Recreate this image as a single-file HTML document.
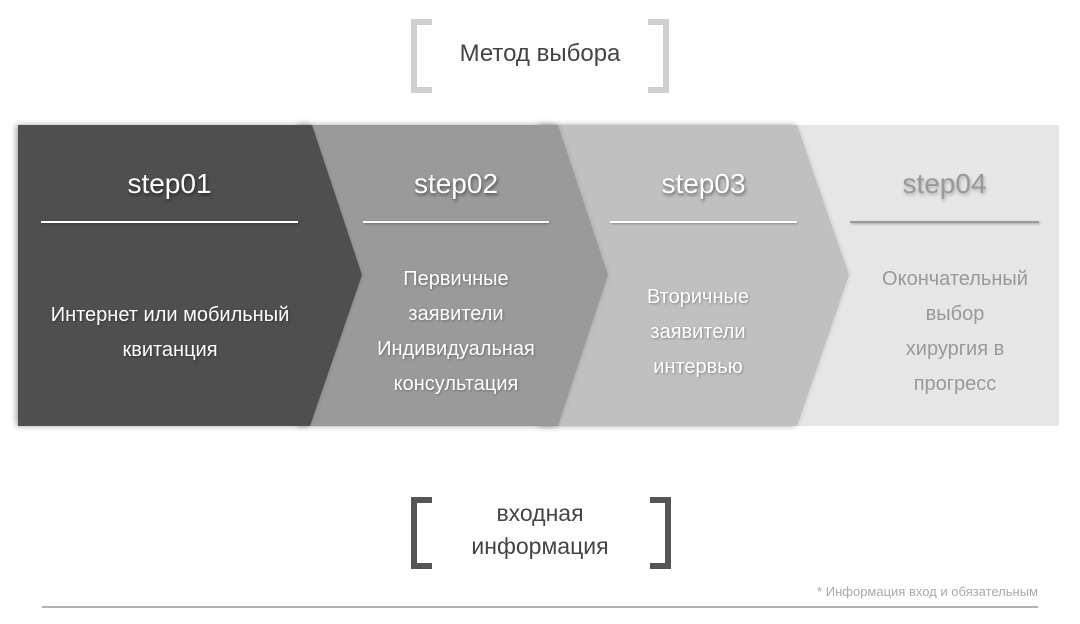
<!DOCTYPE html>
<html><head><meta charset="utf-8"><style>
body{margin:0;width:1080px;height:624px;background:#fff;position:relative;overflow:hidden;font-family:"Liberation Sans","DejaVu Sans",sans-serif}
.t{position:absolute;text-align:center;white-space:nowrap}
.h{font-size:28px;color:#fff;text-shadow:1px 2px 3px rgba(0,0,0,.5)}
.b{font-size:20px;color:#fff;line-height:35px;text-shadow:1px 1px 2px rgba(0,0,0,.3)}
.ln{position:absolute;height:2px;background:#fff;top:221px;box-shadow:1px 1px 2px rgba(0,0,0,.3)}
</style></head><body>
<svg width="1080" height="624" style="position:absolute;left:0;top:0">
<defs><filter id="s" x="-10%" y="-10%" width="120%" height="120%"><feDropShadow dx="-2" dy="0" stdDeviation="3" flood-opacity="0.35"/></filter></defs>
<rect x="18" y="125" width="1041" height="301" fill="#e6e6e6"/>
<polygon points="540,125 797,125 849,275 797,426 540,426" fill="#c0c0c0" filter="url(#s)"/>
<polygon points="300,125 558,125 608,275 558,426 300,426" fill="#9a9a9a" filter="url(#s)"/>
<polygon points="18,125 312,125 362,275 310,426 18,426" fill="#505050" filter="url(#s)"/>
<path d="M432,22 H414 V90 H432 M648,22 H666 V90 H648" fill="none" stroke="#cfcfcf" stroke-width="6"/>
<path d="M432,500 H414 V566 H432 M650,500 H668 V566 H650" fill="none" stroke="#555" stroke-width="6"/>
<line x1="42" y1="607" x2="1038" y2="607" stroke="#999" stroke-width="1.5"/>
</svg>
<div class="t" style="left:420px;width:240px;top:40px;font-size:24px;color:#444">Метод выбора</div>
<div class="t" style="left:420px;width:240px;top:497px;font-size:23px;color:#444;line-height:33px">входная<br>информация</div>
<div class="t" style="right:42px;top:584px;font-size:13px;color:#aaa">* Информация вход и обязательным</div>
<div class="t h" style="left:41px;width:257px;top:168px">step01</div>
<div class="t h" style="left:363px;width:186px;top:168px">step02</div>
<div class="t h" style="left:610px;width:187px;top:168px">step03</div>
<div class="t h" style="left:850px;width:189px;top:168px;color:#999;text-shadow:1px 2px 3px rgba(0,0,0,.25)">step04</div>
<div class="ln" style="left:41px;width:257px"></div>
<div class="ln" style="left:363px;width:186px"></div>
<div class="ln" style="left:610px;width:187px"></div>
<div class="ln" style="left:850px;width:189px;background:#999"></div>
<div class="t b" style="left:20px;width:300px;top:298px">Интернет или мобильный<br>квитанция</div>
<div class="t b" style="left:356px;width:200px;top:262px">Первичные<br>заявители<br>Индивидуальная<br>консультация</div>
<div class="t b" style="left:598px;width:200px;top:280px">Вторичные<br>заявители<br>интервью</div>
<div class="t b" style="left:855px;width:200px;top:262px;color:#999;text-shadow:none">Окончательный<br>выбор<br>хирургия в<br>прогресс</div>
</body></html>
